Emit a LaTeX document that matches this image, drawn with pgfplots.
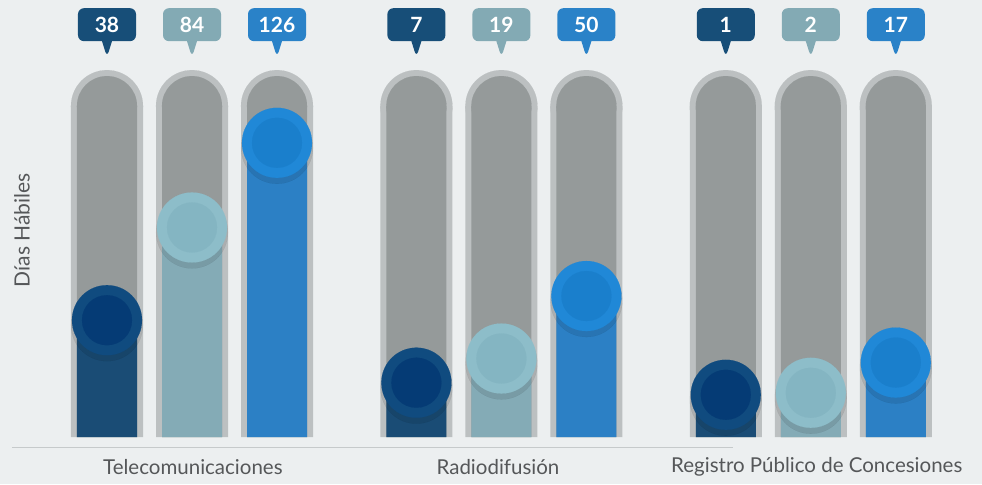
\documentclass[border=0pt]{standalone}
\usepackage{pgfplots}
\pgfplotsset{compat=1.18}
\usepackage{pgfplotstable}
\usepackage{fontspec}
\setmainfont{Lato}
\usetikzlibrary{shapes.callouts}

\definecolor{bgc}{HTML}{ECEFF0}
\definecolor{trko}{HTML}{BCC0C1}
\definecolor{trki}{HTML}{959A9A}
\definecolor{txt}{HTML}{555759}
\definecolor{lnc}{HTML}{C6CACB}
\definecolor{dkbar}{HTML}{1A4C75}
\definecolor{dkc1}{HTML}{104B7F}
\definecolor{dkc2}{HTML}{053B75}
\definecolor{dklab}{HTML}{174E78}
\definecolor{tlbar}{HTML}{84ABB6}
\definecolor{tlc1}{HTML}{8DBDC9}
\definecolor{tlc2}{HTML}{84B5C2}
\definecolor{tllab}{HTML}{83AAB4}
\definecolor{blbar}{HTML}{2C80C5}
\definecolor{blc1}{HTML}{2088D7}
\definecolor{blc2}{HTML}{1A7FCC}
\definecolor{bllab}{HTML}{2A82C8}

% x: bar position, y: dias habiles
\pgfplotstableread{
x y
0 38
3.64 7
7.28 1
}\tdark
\pgfplotstableread{
x y
1 84
4.64 19
8.28 2
}\tteal
\pgfplotstableread{
x y
2 126
5.64 50
9.28 17
}\tblue
\pgfplotstableread{
x y
0 164.2
1 164.2
2 164.2
3.64 164.2
4.64 164.2
5.64 164.2
7.28 164.2
8.28 164.2
9.28 164.2
}\ttrack

\pgfplotsset{
  lab/.style={only marks, mark=none, nodes near coords, point meta=explicit symbolic,
    every node near coord/.append style={rectangle callout, fill=#1, text=white,
      font=\bfseries\fontsize{21}{23}\selectfont, minimum width=58pt, minimum height=33pt,
      inner sep=0pt, rounded corners=6pt, callout relative pointer={(0pt,-16pt)},
      callout pointer width=10pt, anchor=center}},
  bar/.style={ybar, bar width=60pt, bar shift=0pt, fill=#1, draw=none, y filter/.expression={y+20}},
  disc/.style 2 args={only marks, mark=*, mark size=#2, mark options={fill=#1, draw=#1, line width=0.1pt}},
  dot/.style 2 args={disc={#1}{#2}, y filter/.expression={y+20}},
  shadow/.style={only marks, mark=*, mark size=36pt, mark options={fill=black, draw=black, line width=0.1pt, opacity=0.09, yshift=-5pt}, y filter/.expression={y+20}},
}

\begin{document}
\begin{tikzpicture}
\begin{axis}[
    scale only axis, width=982pt, height=484pt,
    xmin=-1.2588, xmax=10.2941, ymin=-23.3, ymax=216.8,
    axis background/.style={fill=bgc},
    axis line style={draw=none},
    ytick=\empty,
    xtick={1.01,4.6,8.35},
    xticklabels={Telecomunicaciones,Radiodifusión,Registro Público de Concesiones},
    major tick length=0pt,
    xticklabel style={anchor=center, yshift=17pt, font=\fontsize{20.5}{22}\selectfont, text=txt},
    clip=false,
    clip marker paths=true,
]
% tracks
\addplot[ybar, bar width=72pt, bar shift=0pt, fill=trko, draw=none] table {\ttrack};
\addplot[disc={trko}{36pt}] table {\ttrack};
\addplot[ybar, bar width=60pt, bar shift=0pt, fill=trki, draw=none] table {\ttrack};
\addplot[disc={trki}{30pt}] table {\ttrack};
% bars
\addplot[bar=dkbar] table {\tdark};
\addplot[bar=tlbar] table {\tteal};
\addplot[bar=blbar] table {\tblue};
% knobs
\addplot[shadow] table {\tdark};
\addplot[shadow] table {\tteal};
\addplot[shadow] table {\tblue};
\addplot[dot={dkc1}{35pt}] table {\tdark};
\addplot[dot={dkc2}{25pt}] table {\tdark};
\addplot[dot={tlc1}{35pt}] table {\tteal};
\addplot[dot={tlc2}{25pt}] table {\tteal};
\addplot[dot={blc1}{35pt}] table {\tblue};
\addplot[dot={blc2}{25pt}] table {\tblue};
% value callouts
\addplot[lab=dklab] table[x=x, y expr=204.6, meta=y] {\tdark};
\addplot[lab=tllab] table[x=x, y expr=204.6, meta=y] {\tteal};
\addplot[lab=bllab] table[x=x, y expr=204.6, meta=y] {\tblue};
\draw[lnc, line width=1pt] (axis cs:-1.118,-5) -- (axis cs:7.365,-5);
\node[rotate=90, text=txt, font=\fontsize{21}{23}\selectfont] at (axis cs:-1.0,102.7) {Días Hábiles};
\end{axis}
\end{tikzpicture}
\end{document}
